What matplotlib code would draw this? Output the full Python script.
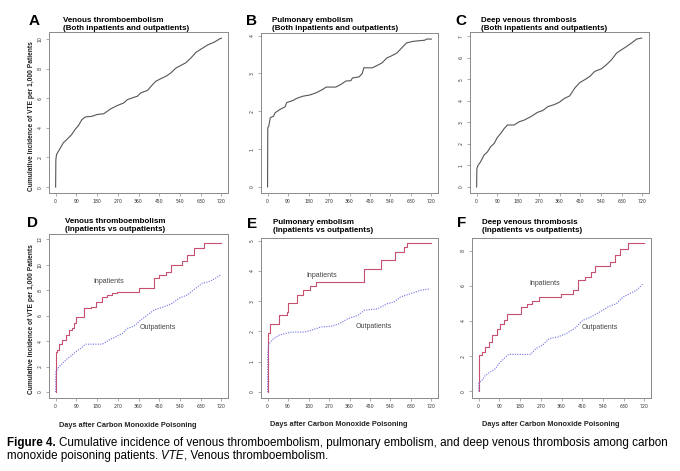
#!/usr/bin/env python3
"""Cumulative incidence of VTE, PE and DVT after carbon monoxide poisoning."""

import matplotlib

matplotlib.use("Agg")
import matplotlib.pyplot as plt

W, H = 680, 471

# panel A: venous thromboembolism, all patients
a_days = [0, 1, 4, 19, 34, 48, 70, 85, 99, 114, 128, 158, 180, 209, 238, 267, 296, 311,
          340, 355, 369, 399, 420, 435, 457, 479, 500, 523, 545, 566, 588, 610, 632, 661,
          691, 712, 720]
a_vals = [0, 1.85, 2.2, 2.6, 3.0, 3.2, 3.55, 3.9, 4.15, 4.55, 4.73, 4.78, 4.9, 4.95, 5.27,
          5.5, 5.68, 5.9, 6.06, 6.13, 6.35, 6.53, 6.9, 7.14, 7.32, 7.48, 7.7, 8.04, 8.22,
          8.4, 8.72, 9.1, 9.32, 9.6, 9.8, 10.0, 10.05]

# panel B: pulmonary embolism, all patients
b_days = [0, 1, 5, 12, 26, 33, 55, 77, 84, 113, 127, 156, 185, 214, 243, 257, 300, 322,
          344, 366, 373, 402, 416, 423, 460, 481, 503, 524, 546, 568, 590, 611, 640, 691,
          698, 720]
b_vals = [0, 1.57, 1.6, 1.83, 1.87, 1.96, 2.05, 2.12, 2.23, 2.29, 2.34, 2.4, 2.43, 2.49,
          2.58, 2.64, 2.64, 2.71, 2.8, 2.81, 2.88, 2.91, 3.0, 3.15, 3.15, 3.21, 3.28, 3.41,
          3.47, 3.54, 3.68, 3.81, 3.85, 3.88, 3.91, 3.91]

# panel C: deep venous thrombosis, all patients
c_days = [0, 1, 6, 17, 32, 47, 61, 76, 90, 105, 120, 134, 163, 185, 207, 236, 265, 287,
          309, 338, 360, 382, 404, 426, 448, 469, 491, 513, 542, 564, 586, 608, 630, 652,
          673, 695, 717]
c_vals = [0, 0.85, 1.0, 1.17, 1.48, 1.63, 1.87, 2.02, 2.3, 2.49, 2.72, 2.88, 2.88, 3.03,
          3.11, 3.27, 3.47, 3.55, 3.73, 3.83, 3.94, 4.12, 4.23, 4.59, 4.85, 4.98, 5.13,
          5.37, 5.49, 5.68, 5.91, 6.22, 6.38, 6.53, 6.69, 6.87, 6.92]

# panel D: VTE, inpatients vs outpatients
d_in_days = [0, 1, 7, 14, 29, 43, 58, 72, 80, 87, 109, 123, 152, 174, 203, 225, 246, 268,
             333, 362, 406, 428, 449, 478, 500, 551, 572, 601, 645, 717]
d_in_vals = [0, 3.16, 3.3, 3.76, 4.08, 4.47, 4.87, 5.0, 5.4, 5.87, 5.92, 6.58, 6.71, 7.1,
             7.45, 7.63, 7.76, 7.9, 7.9, 8.16, 8.16, 8.95, 9.2, 9.47, 10.0, 10.26, 10.8,
             11.3, 11.7, 11.7]
d_out_days = [0, 1, 14, 29, 51, 72, 87, 109, 130, 159, 203, 232, 261, 290, 312, 341, 370,
              399, 428, 472, 507, 536, 572, 609, 638, 667, 696, 717]
d_out_vals = [0, 1.58, 1.97, 2.24, 2.63, 2.9, 3.16, 3.42, 3.76, 3.76, 3.76, 4.08, 4.34,
              4.6, 5.0, 5.18, 5.66, 6.05, 6.45, 6.71, 6.97, 7.37, 7.63, 8.16, 8.55, 8.68,
              8.95, 9.2]

# panel E: PE, inpatients vs outpatients
e_in_days = [0, 1, 12, 51, 84, 88, 128, 157, 186, 214, 422, 500, 562, 599, 613, 720]
e_in_vals = [0, 1.96, 2.26, 2.53, 2.64, 2.94, 3.22, 3.36, 3.49, 3.63, 4.05, 4.35, 4.63,
             4.79, 4.92, 4.92]
e_out_days = [0, 1, 4, 12, 26, 48, 77, 106, 164, 193, 236, 280, 316, 352, 396, 425, 483,
              526, 555, 584, 628, 672, 715]
e_out_vals = [0, 1.27, 1.54, 1.65, 1.76, 1.87, 1.93, 1.98, 1.98, 2.04, 2.15, 2.17, 2.26,
              2.42, 2.53, 2.7, 2.75, 2.92, 2.97, 3.14, 3.25, 3.36, 3.41]

# panel F: DVT, inpatients vs outpatients
f_in_days = [0, 1, 15, 29, 44, 58, 80, 95, 110, 124, 182, 212, 234, 263, 358, 409, 431,
             460, 489, 504, 569, 591, 613, 650, 720]
f_in_vals = [0, 2.05, 2.24, 2.52, 2.81, 3.18, 3.56, 3.85, 4.04, 4.42, 4.8, 4.99, 5.14,
             5.37, 5.56, 5.75, 6.31, 6.5, 6.79, 7.11, 7.36, 7.74, 8.11, 8.44, 8.44]
f_out_days = [0, 1, 15, 29, 51, 73, 88, 110, 131, 226, 248, 277, 307, 343, 380, 416, 453,
              489, 526, 562, 599, 628, 657, 686, 715]
f_out_vals = [0, 0.47, 0.63, 0.91, 1.1, 1.29, 1.57, 1.86, 2.1, 2.1, 2.43, 2.62, 3.0, 3.09,
              3.28, 3.56, 4.04, 4.23, 4.51, 4.8, 4.99, 5.37, 5.56, 5.75, 6.12]

x_ticks = [0, 90, 180, 270, 360, 450, 540, 630, 720]
disease = ["Venous thromboembolism", "Pulmonary embolism", "Deep venous thrombosis"]
both_sub = "(Both inpatients and outpatients)"
split_sub = "(Inpatients vs outpatients)"
letters = ["A", "B", "C", "D", "E", "F"]
ylabel = "Cumulative Incidence of VTE per 1,000 Patients"
xlabel = "Days after Carbon Monoxide Poisoning"

GRAY = "#555555"
RED = "#c8506e"
BLUE = "#6f6fe8"
FRAME = "#8a8a8a"
SANS = ["Liberation Sans", "DejaVu Sans"]

# axes boxes in pixels: left, right, top, bottom
boxes = [(49, 228, 32, 193), (261, 438, 33, 193), (470, 649, 32, 193),
         (49, 228, 234, 398), (261, 438, 238, 398), (472, 651, 238, 398)]


def make_axes(fig, box):
    l, r, t, b = box
    return fig.add_axes([l / W, 1 - b / H, (r - l) / W, (b - t) / H])


def style(ax, yticks, ylim):
    ax.set_xlim(-28.8, 748.8)
    ax.set_ylim(*ylim)
    ax.set_xticks(x_ticks)
    ax.set_yticks(yticks)
    ax.tick_params(length=2.5, width=0.5, pad=2, labelsize=3.3, colors="#333333")
    ax.tick_params(axis="both", color=FRAME)
    for lab in ax.get_yticklabels():
        lab.set_rotation(90)
        lab.set_va("center")
    for sp in ax.spines.values():
        sp.set_color(FRAME)
        sp.set_linewidth(0.7)


fig = plt.figure(figsize=(W / 100, H / 100), dpi=100)
axes = [make_axes(fig, b) for b in boxes]

top = [(a_days, a_vals, [0, 2, 4, 6, 8, 10], (-0.4, 10.47)),
       (b_days, b_vals, [0, 1, 2, 3, 4], (-0.16, 4.07)),
       (c_days, c_vals, [0, 1, 2, 3, 4, 5, 6, 7], (-0.28, 7.2))]
for ax, (days, vals, yt, yl) in zip(axes[:3], top):
    ax.plot(days, vals, color=GRAY, lw=0.8)
    style(ax, yt, yl)

bottom = [(d_in_days, d_in_vals, d_out_days, d_out_vals, [0, 2, 4, 6, 8, 10, 12],
           (-0.47, 12.42), (232, 8.7), (442, 5.1)),
          (e_in_days, e_in_vals, e_out_days, e_out_vals, [0, 1, 2, 3, 4, 5],
           (-0.2, 5.09), (236, 3.85), (468, 2.15)),
          (f_in_days, f_in_vals, f_out_days, f_out_vals, [0, 2, 4, 6, 8],
           (-0.38, 8.72), (288, 6.12), (526, 3.62))]
for ax, (di, vi, do, vo, yt, yl, in_xy, out_xy) in zip(axes[3:], bottom):
    ax.step(di, vi, where="post", color=RED, lw=0.8)
    ax.plot(do, vo, color=BLUE, lw=0.8, ls=(0, (1, 1.2)))
    ax.text(*in_xy, "Inpatients", fontsize=5, color="#444444", family=SANS, ha="center", va="center")
    ax.text(*out_xy, "Outpatients", fontsize=5, color="#444444", family=SANS, ha="center", va="center")
    style(ax, yt, yl)
    ax.set_xlabel(xlabel, fontsize=5.3, fontweight="bold", family=SANS, color="#222222")
    ax.xaxis.set_label_coords(0.44, -0.145)

for ax in (axes[0], axes[3]):
    ax.set_ylabel(ylabel, fontsize=4.8, fontweight="bold", family=SANS, color="#222222")
    ax.yaxis.set_label_coords(-0.08, 0.48)

# panel letters and two-line titles
letter_pos = [(29, 25), (246, 25), (455, 25), (27, 227), (247, 228), (457, 227)]
title_pos = [(63, 30), (272, 30), (481, 30), (65, 231), (273, 232), (482, 232)]
subs = [both_sub] * 3 + [split_sub] * 3
for i in range(6):
    lx, ly = letter_pos[i]
    fig.text(lx / W, 1 - ly / H, letters[i], fontsize=11, fontweight="bold",
             family=SANS, ha="left", va="baseline")
    tx, ty = title_pos[i]
    fig.text(tx / W, 1 - ty / H, disease[i % 3] + "\n" + subs[i], fontsize=5.8,
             fontweight="bold", family=SANS, ha="left", va="baseline", linespacing=1.25)

# caption with bold label and italic abbreviation
renderer = fig.canvas.get_renderer()


def put(x_px, y_px, s, **kw):
    t = fig.text(x_px / W, 1 - y_px / H, s, fontsize=8.4, family=SANS, va="baseline", **kw)
    return x_px + t.get_window_extent(renderer).width


x = put(7, 446, "Figure 4.", fontweight="bold")
put(x + 3, 446, "Cumulative incidence of venous thromboembolism, pulmonary embolism, "
    "and deep venous thrombosis among carbon")
x = put(7, 459, "monoxide poisoning patients. ")
x = put(x, 459, "VTE", style="italic")
put(x, 459, ", Venous thromboembolism.")

fig.savefig("out.png", dpi=100)
